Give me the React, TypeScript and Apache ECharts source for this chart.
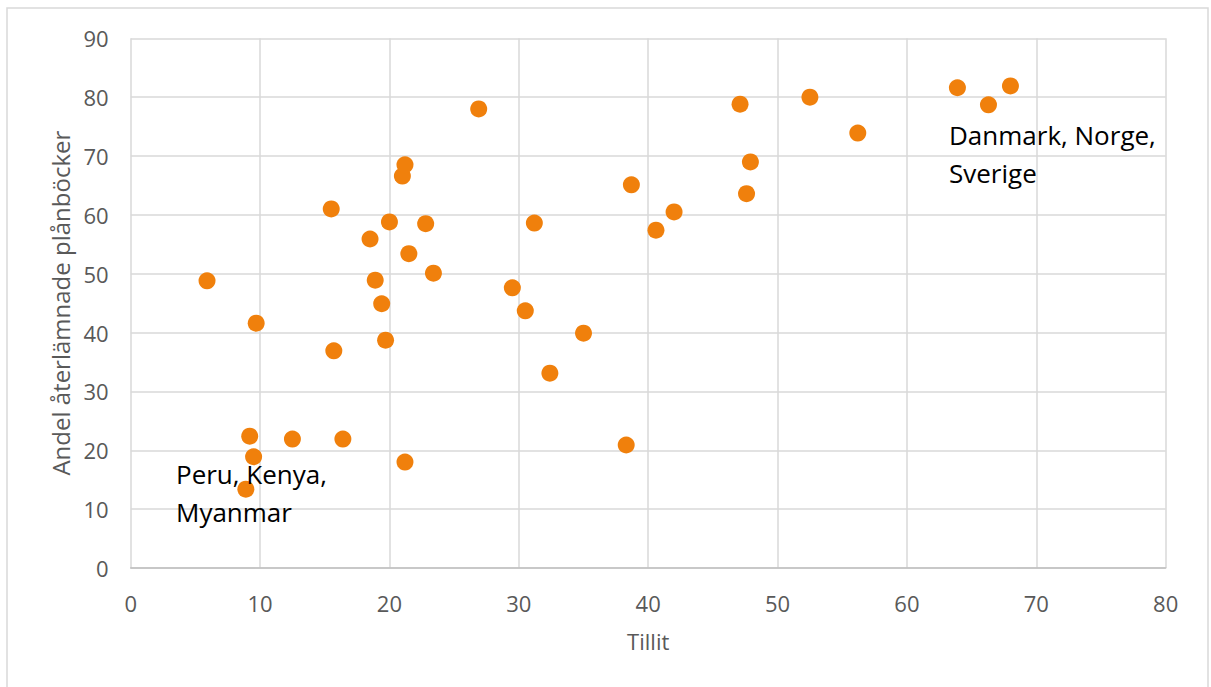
import React, { useEffect, useRef } from "react";
import * as echarts from "echarts";

const tillit: number[] = [
  5.9, 9.7, 9.2, 9.5, 8.9, 12.5, 16.4, 15.5, 15.7, 18.5, 18.9, 19.4, 19.7, 20.0,
  21.0, 21.2, 21.5, 21.2, 22.8, 23.4, 26.9, 29.5, 30.5, 31.2, 32.4, 35.0, 38.3,
  38.7, 40.6, 42.0, 47.1, 47.9, 47.6, 52.5, 56.2, 63.9, 66.3, 68.0,
];
const andel: number[] = [
  48.8, 41.6, 22.4, 18.9, 13.4, 21.9, 21.9, 61.0, 36.9, 55.9, 48.9, 44.9, 38.7,
  58.8, 66.6, 68.5, 53.4, 18.0, 58.5, 50.1, 78.0, 47.6, 43.7, 58.6, 33.1, 39.9,
  20.9, 65.1, 57.4, 60.5, 78.8, 69.0, 63.6, 80.0, 73.9, 81.6, 78.7, 81.9,
];
const annotations = [
  { text: "Danmark, Norge,\nSverige", x: 949, y: 116 },
  { text: "Peru, Kenya,\nMyanmar", x: 176, y: 455 },
];

const FONT = "'Open Sans', 'Noto Sans', sans-serif";

export default function App() {
  const ref = useRef<HTMLDivElement>(null);
  useEffect(() => {
    if (!ref.current) return;
    const chart = echarts.init(ref.current, undefined, { renderer: "svg" });
    const data = tillit.map((x, i) => [x, andel[i]]);
    chart.setOption({
      animation: false,
      backgroundColor: "#ffffff",
      grid: { left: 130.7, top: 38.3, width: 1035, height: 529.7, containLabel: false },
      xAxis: {
        type: "value",
        min: 0,
        max: 80,
        interval: 10,
        name: "Tillit",
        nameLocation: "middle",
        nameGap: 62,
        nameTextStyle: { color: "#595959", fontSize: 22, fontFamily: FONT },
        axisLine: { show: true, lineStyle: { color: "#bfbfbf", width: 1.5 } },
        axisTick: { show: false },
        axisLabel: { color: "#595959", fontSize: 22, fontFamily: FONT, margin: 24 },
        splitLine: { show: true, lineStyle: { color: "#d9d9d9", width: 1.5 } },
      },
      yAxis: {
        type: "value",
        min: 0,
        max: 90,
        interval: 10,
        name: "Andel återlämnade plånböcker",
        nameLocation: "middle",
        nameGap: 58,
        nameTextStyle: { color: "#595959", fontSize: 24, fontFamily: FONT },
        axisLine: { show: false },
        axisTick: { show: false },
        axisLabel: { color: "#595959", fontSize: 22, fontFamily: FONT, margin: 22 },
        splitLine: { show: true, lineStyle: { color: "#d9d9d9", width: 1.5 } },
      },
      series: [
        {
          type: "scatter",
          data,
          symbol: "circle",
          symbolSize: 17,
          itemStyle: { color: "#f0800c", opacity: 1 },
        },
      ],
      graphic: [
        {
          type: "rect",
          shape: { x: 7, y: 8, width: 1201, height: 700 },
          style: { fill: "none", stroke: "#d9d9d9", lineWidth: 1.5 },
          silent: true,
        },
        ...annotations.map((a) => ({
          type: "text",
          x: a.x,
          y: a.y,
          z: 100,
          style: {
            text: a.text,
            fill: "#000000",
            fontSize: 26,
            fontFamily: FONT,
            lineHeight: 38,
          },
        })),
      ],
    });
    return () => chart.dispose();
  }, []);
  return (
    <div
      ref={ref}
      style={{ position: "absolute", left: 0, top: 0, width: 1211, height: 687 }}
    />
  );
}
